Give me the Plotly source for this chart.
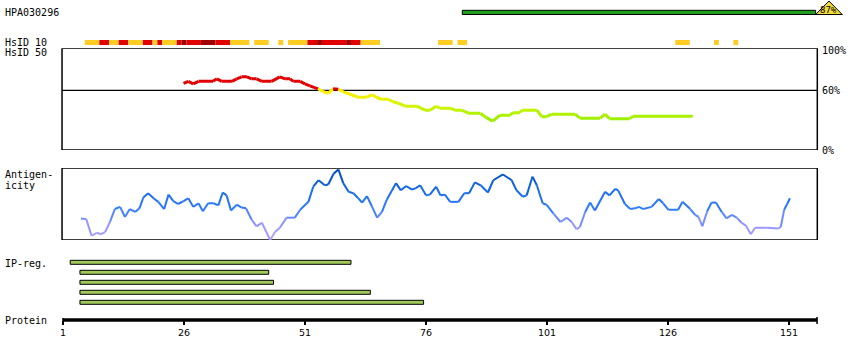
import plotly.graph_objects as go

# ---------------- data ----------------
PROTEIN_LENGTH = 156
X_TICKS = [1, 26, 51, 76, 101, 126, 151]

ANTIGEN_NAME = "HPA030296"
ANTIGEN_START = 84
ANTIGEN_END = 156
ANTIGEN_IDENTITY = "87%"

# HsID 10 blocks (residue ranges); level 1 = yellow, 2 = red, 3 = dark red
HSID10_START = [6, 9, 11, 13, 15, 18, 20, 21, 22, 25, 26, 27, 30, 33, 36, 41, 46, 48,
                52, 54, 55, 60, 61, 63, 79, 83, 128, 136, 140]
HSID10_END = [8, 10, 12, 14, 17, 19, 20, 21, 24, 25, 26, 29, 32, 35, 39, 43, 46, 51,
              53, 54, 59, 60, 62, 66, 81, 84, 130, 136, 140]
HSID10_LEVEL = [1, 2, 1, 2, 1, 2, 1, 2, 1, 2, 3, 2, 3, 2, 1, 1, 1, 1,
                2, 3, 2, 3, 2, 1, 1, 1, 1, 1, 1]

# HsID 50 similarity curve (% identity)
HSID50_POS = [25.9, 26.9, 27.9, 29.0, 32.0, 32.8, 33.8, 35.9, 36.9, 37.9, 39.0, 40.0,
              41.0, 42.1, 44.1, 45.8, 46.9, 47.9, 48.6, 50.0, 51.0, 52.0, 53.7, 54.8,
              55.8, 56.8, 57.9, 58.9, 60.3, 62.0, 63.7, 64.8, 65.8, 66.8, 68.2, 69.2,
              70.3, 71.7, 74.1, 75.8, 76.8, 78.1, 78.9, 81.0, 82.0, 83.4, 84.7, 87.2,
              88.5, 89.8, 91.3, 93.4, 94.0, 95.4, 95.8, 98.9, 99.9, 100.9, 102.0, 106.8,
              107.8, 112.0, 113.0, 113.9, 118.1, 118.8, 131.1]
HSID50_VAL = [67, 69, 66.5, 69, 69, 71.5, 69, 69, 71.5, 73.5, 73.5, 71.5,
              71.5, 69, 69, 73.5, 71.5, 71.5, 69, 69, 66.5, 64.5, 61.5, 58.5,
              57, 61.5, 61, 58.5, 56, 53, 53, 55.5, 53, 51, 51, 48.5,
              47, 44, 44, 40, 40, 44, 42, 42, 40, 40, 37, 37,
              32.5, 29, 35, 35, 37.5, 37.5, 40, 40, 33.5, 33.5, 36, 36,
              32, 32, 36, 31.5, 31.5, 34, 34]

# Antigenicity profile (relative score, 0-100)
ANTI_POS = [4.7, 5.8, 6.9, 8.0, 8.8, 9.7, 10.7, 11.7, 12.8, 13.8, 14.8, 15.9, 16.8,
            17.6, 18.6, 19.7, 20.7, 21.9, 22.8, 23.8, 24.8, 25.9, 26.9, 27.9, 29.0,
            29.9, 31.0, 32.1, 33.1, 34.0, 34.8, 35.7, 36.9, 37.9, 38.8, 40.0, 41.0,
            42.1, 43.8, 44.8, 45.8, 47.2, 48.9, 50.0, 51.7, 52.7, 53.8, 55.1, 55.8,
            56.9, 57.9, 58.9, 60.0, 61.0, 62.0, 62.8, 63.8, 64.8, 65.9, 66.9, 67.9,
            68.9, 69.8, 70.8, 71.9, 73.1, 73.9, 74.8, 76.0, 76.8, 78.1, 79.0, 79.9,
            81.0, 82.7, 83.9, 84.9, 86.1, 87.3, 88.8, 89.9, 91.9, 93.7, 94.7, 96.0,
            96.8, 98.0, 98.9, 100.1, 100.9, 102.3, 103.8, 105.1, 106.1, 107.1, 107.8,
            108.9, 109.9, 110.9, 113.0, 113.9, 115.1, 115.7, 117.1, 118.2, 119.2, 120.0,
            120.9, 122.6, 124.1, 125.0, 126.1, 128.1, 129.0, 130.6, 131.6, 132.3, 133.1,
            134.1, 135.0, 135.9, 137.1, 138.1, 139.2, 140.2, 141.2, 142.1, 143.1, 144.0,
            146.4, 148.8, 149.3, 150.0, 150.7, 151.2]
ANTI_VAL = [30, 29, 6, 10, 8, 11, 25, 43, 46, 32, 43, 39, 44,
            59, 65, 58, 53, 43, 63, 54, 50, 54, 58, 46, 51,
            40, 51, 51, 48, 66, 62, 41, 49, 45, 44, 28, 19,
            24, 0, 11, 17, 31, 31, 42, 53, 74, 83, 76, 77,
            92, 98, 79, 67, 65, 58, 52, 61, 47, 31, 39, 56,
            68, 79, 69, 75, 70, 72, 76, 62, 63, 74, 62, 63,
            53, 53, 65, 65, 80, 76, 66, 83, 91, 83, 69, 60,
            62, 88, 76, 51, 49, 37, 25, 31, 25, 15, 18,
            39, 52, 41, 67, 62, 71, 69, 50, 43, 44, 46,
            43, 46, 57, 51, 42, 42, 53, 43, 35, 32, 19,
            40, 52, 52, 39, 30, 35, 31, 24, 20, 8, 17,
            17, 16, 18, 42, 51, 58]

# IP-reg. regions (residue ranges)
IP_START = [3, 5, 5, 5, 5]
IP_END = [60, 43, 44, 64, 75]

# ---------------- layout constants ----------------
W, H = 850, 360
PX_ORIGIN = 63.0       # pixel of residue 1
PX_PER_RES = 4.84
X_RANGE = [1 - PX_ORIGIN / PX_PER_RES, 1 + (W - PX_ORIGIN) / PX_PER_RES]

BOX_X0, BOX_X1 = 0.8, PROTEIN_LENGTH + 0.85
MONO = "DejaVu Sans Mono"
SANS = "DejaVu Sans"

HSID10_COLORS = {1: "#FFCC22", 2: "#E00000", 3: "#A00000"}


def dom(top_px, bottom_px):
    return [1 - bottom_px / H, 1 - top_px / H]


def lerp_stops(v, stops):
    if v <= stops[0][0]:
        return stops[0][1]
    for (v0, c0), (v1, c1) in zip(stops[:-1], stops[1:]):
        if v <= v1:
            t = (v - v0) / (v1 - v0)
            return tuple(c0[i] + (c1[i] - c0[i]) * t for i in range(3))
    return stops[-1][1]


def rgb(c):
    return "rgb(%d,%d,%d)" % tuple(int(round(x)) for x in c)


def hsid50_color(v):
    if v > 60:
        return "rgb(224,0,0)"
    return rgb(lerp_stops(v, [(30, (150, 240, 0)), (44, (210, 245, 0)), (60, (255, 238, 0))]))


def anti_color(v):
    return rgb(lerp_stops(v, [(0, (180, 165, 255)), (25, (140, 145, 255)),
                              (42, (50, 125, 255)), (70, (20, 105, 235)),
                              (100, (0, 70, 170))]))


fig = go.Figure()

# HsID 50 curve, coloured by value
for i in range(len(HSID50_POS) - 1):
    v = (HSID50_VAL[i] + HSID50_VAL[i + 1]) / 2
    fig.add_trace(go.Scatter(
        x=[HSID50_POS[i], HSID50_POS[i + 1]], y=[HSID50_VAL[i], HSID50_VAL[i + 1]],
        mode="lines", line=dict(color=hsid50_color(v), width=3),
        xaxis="x", yaxis="y2", hoverinfo="skip", showlegend=False))

# Antigenicity curve, coloured by value
for i in range(len(ANTI_POS) - 1):
    v = (ANTI_VAL[i] + ANTI_VAL[i + 1]) / 2
    fig.add_trace(go.Scatter(
        x=[ANTI_POS[i], ANTI_POS[i + 1]], y=[ANTI_VAL[i], ANTI_VAL[i + 1]],
        mode="lines", line=dict(color=anti_color(v), width=2),
        xaxis="x", yaxis="y3", hoverinfo="skip", showlegend=False))

# identity triangle at the end of the antigen bar
tri_x0 = ANTIGEN_END + 0.5
fig.add_trace(go.Scatter(
    x=[tri_x0, tri_x0 + 2.75, tri_x0 + 5.5, tri_x0],
    y=[14.5, 1.0, 14.5, 14.5], mode="lines", fill="toself",
    fillcolor="#F2DA3A", line=dict(color="black", width=1),
    xaxis="x", yaxis="y", hoverinfo="skip", showlegend=False))

shapes = []
# antigen bar
shapes.append(dict(type="rect", xref="x", yref="y", x0=ANTIGEN_START - 0.5, x1=ANTIGEN_END + 0.5,
                   y0=10.3, y1=14.5, fillcolor="#1EA01E", line=dict(color="black", width=1)))
shapes.append(dict(type="line", xref="x", yref="y", x0=ANTIGEN_END + 0.5, x1=tri_x0 + 5.5,
                   y0=14.5, y1=14.5, line=dict(color="black", width=1)))

# HsID 10 blocks
for s, e, lv in zip(HSID10_START, HSID10_END, HSID10_LEVEL):
    shapes.append(dict(type="rect", xref="x", yref="y", x0=s - 0.5, x1=e + 0.5,
                       y0=40, y1=45, fillcolor=HSID10_COLORS[lv], line=dict(width=0)))

# HsID 50 box and 60% line
shapes.append(dict(type="rect", xref="x", yref="y2", x0=BOX_X0, x1=BOX_X1, y0=0, y1=102.2,
                   line=dict(color="black", width=1.5), fillcolor="rgba(0,0,0,0)", layer="below"))
shapes.append(dict(type="line", xref="x", yref="y2", x0=BOX_X0, x1=BOX_X1, y0=60, y1=60,
                   line=dict(color="black", width=1.3), layer="below"))

# Antigenicity box
shapes.append(dict(type="rect", xref="x", yref="y3", x0=BOX_X0, x1=BOX_X1, y0=0, y1=100,
                   line=dict(color="black", width=1.5), fillcolor="rgba(0,0,0,0)", layer="below"))

# IP-reg bars
for k, (s, e) in enumerate(zip(IP_START, IP_END)):
    yc = 262.3 + 10 * k
    shapes.append(dict(type="rect", xref="x", yref="y", x0=s - 0.5, x1=e + 0.5,
                       y0=yc - 2, y1=yc + 2, fillcolor="#A0C85A", line=dict(color="black", width=1)))

# Protein axis line and end ticks
shapes.append(dict(type="line", xref="x", yref="y", x0=1, x1=PROTEIN_LENGTH + 0.8, y0=320, y1=320,
                   line=dict(color="black", width=3.4)))
shapes.append(dict(type="line", xref="x", yref="y", x0=PROTEIN_LENGTH + 0.8, x1=PROTEIN_LENGTH + 0.8,
                   y0=317, y1=324, line=dict(color="black", width=1.5)))
shapes.append(dict(type="line", xref="x", yref="y", x0=1, x1=1,
                   y0=318, y1=324, line=dict(color="black", width=1.5)))

annotations = []


def left_label(text, ypx):
    annotations.append(dict(text=text, xref="paper", yref="y", x=3 / W, y=ypx, xanchor="left",
                            yanchor="middle", showarrow=False,
                            font=dict(family=MONO, size=10, color="black")))


left_label(ANTIGEN_NAME, 12.5)
left_label("HsID 10", 42)
left_label("HsID 50", 52.5)
left_label("Antigen-", 174.5)
left_label("icity", 185)
left_label("IP-reg.", 263.5)
left_label("Protein", 320)

for txt, val in [("100%", 100), ("60%", 60), ("0%", 0)]:
    annotations.append(dict(text=txt, xref="paper", yref="y2", x=819.5 / W, y=val, xanchor="left",
                            yanchor="middle", showarrow=False,
                            font=dict(family=MONO, size=10, color="black")))

annotations.append(dict(text=ANTIGEN_IDENTITY, xref="x", yref="y", x=tri_x0 + 2.75, y=10,
                        xanchor="center", yanchor="middle", showarrow=False,
                        font=dict(family=MONO, size=9, color="black")))

fig.update_layout(
    width=W, height=H, margin=dict(l=0, r=0, t=0, b=0),
    paper_bgcolor="white", plot_bgcolor="white",
    shapes=shapes, annotations=annotations, showlegend=False,
    xaxis=dict(domain=[0, 1], range=X_RANGE, anchor="free", position=1 - 320 / H,
               tickvals=X_TICKS, ticktext=[str(t) for t in X_TICKS], ticks="outside",
               ticklen=4, tickwidth=1.5, tickcolor="black", showline=False,
               showgrid=False, zeroline=False, fixedrange=True,
               tickfont=dict(family=SANS, size=9.5, color="black")),
    yaxis=dict(domain=[0, 1], range=[H, 0], visible=False, fixedrange=True),
    yaxis2=dict(domain=dom(48.3, 150), range=[0, 102.2], visible=False, anchor="x"),
    yaxis3=dict(domain=dom(168, 240), range=[0, 100], visible=False, anchor="x"),
)

fig.write_html("out.html", config={"displayModeBar": False},
               post_script="document.body.style.margin='0px';document.body.style.overflow='hidden';")
